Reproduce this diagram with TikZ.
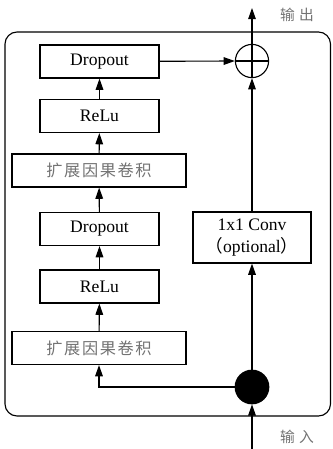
\documentclass[tikz,border=0pt]{standalone}
\usepackage{fontspec}
\setmainfont{Liberation Serif}
\newfontfamily\zh[LetterSpace=10]{Noto Sans CJK SC}
\newfontfamily\zhwide[LetterSpace=30]{Noto Sans CJK SC}
\newfontfamily\zhp{Noto Sans CJK SC}
\usepackage{tikz}
\usetikzlibrary{
  arrows.meta,
  positioning
}

\begin{document}
\begin{tikzpicture}[
  x=0.025cm, y=-0.025cm,
  line width=0.8pt,
  layerbox/.style={
    draw, fill=white, minimum width=2.975cm, minimum height=0.825cm,
    font=\fontsize{12.5}{14}\selectfont, inner sep=2pt
  },
  widebox/.style={
    layerbox, minimum width=4.35cm, text=black!55,
    font=\fontsize{11.5}{13}\selectfont\zh
  },
  sidetext/.style={text=black!55, font=\fontsize{10.5}{12}\selectfont\zhwide},
  flow/.style={-{Triangle[length=2.8mm, width=1.9mm]}}
]
  \useasboundingbox (0,0) rectangle (332,449);

  % residual block frame
  \draw[rounded corners=0.3cm] (5,32) rectangle (330.5,416);

  % left branch, bottom to top
  \node[widebox]  (conv2) at (99,348)   {扩展因果卷积};
  \node[layerbox] (relu2) at (99.5,286.5) {ReLu};
  \node[layerbox] (drop2) at (99.5,229) {Dropout};
  \node[widebox]  (conv1) at (99,170.5) {扩展因果卷积};
  \node[layerbox] (relu1) at (99.5,116) {ReLu};
  \node[layerbox] (drop1) at (99.5,61.5) {Dropout};

  % shortcut branch
  \node[layerbox, minimum width=2.95cm, minimum height=1.275cm, align=center,
        font=\fontsize{12.5}{16}\selectfont] (skip) at (252,237.5)
    {1x1 Conv\\{\zhp （}optional{\zhp ）}};
  \node[draw, circle, fill=black, minimum size=0.84cm, inner sep=0pt] (split) at (252,387) {};
  \node[draw, circle, minimum size=0.83cm, inner sep=0pt] (add) at (252,61) {};
  \draw (add.west) -- (add.east);

  \coordinate (in)  at (252,449);
  \coordinate (out) at (252,8);

  % connections
  \draw[flow] (in) -- (split.south);
  \draw[flow] (split.west) -| (conv2.south);
  \draw[flow] (conv2) -- (relu2);
  \draw[flow] (relu2) -- (drop2);
  \draw[flow] (drop2) -- (conv1);
  \draw[flow] (conv1) -- (relu1);
  \draw[flow] (relu1) -- (drop1);
  \draw[flow] (drop1) -- (add.west);
  \draw[flow] (split.north) -- (skip.south);
  \draw[flow] (skip.north) -- (add.south);
  \draw (add.south) -- (add.north);
  \draw[flow] (add.north) -- (out);

  \node[sidetext] (outlabel) at (297,15)  {输出};
  \node[sidetext] (inlabel)  at (297,437) {输入};
\end{tikzpicture}
\end{document}
